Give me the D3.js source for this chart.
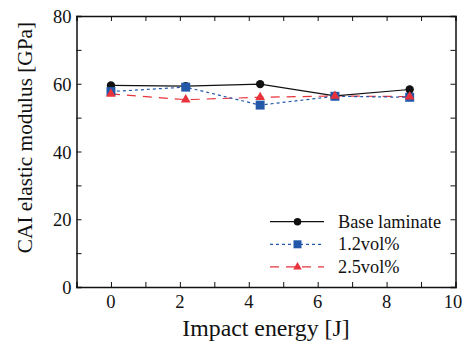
<!DOCTYPE html>
<html>
<head>
<meta charset="utf-8">
<script src="https://cdn.jsdelivr.net/npm/d3@7"></script>
<style>
  body { margin: 0; background: #fff; overflow: hidden; }
  svg { display: block; }
  text { font-family: "Liberation Serif", "Times New Roman", serif; fill: #111; }
</style>
</head>
<body>
<svg id="frame"></svg>
<script>
const width = 464;
const height = 345;

// data
const energies = [0, 2.17, 4.33, 6.5, 8.67];
const baseLaminate = [59.5, 59.3, 59.9, 56.4, 58.3];
const vol12 = [57.7, 59.0, 53.7, 56.3, 56.0];
const vol25 = [57.0, 55.3, 56.0, 56.4, 56.2];
const xTicks = [0, 2, 4, 6, 8, 10];
const yTicks = [0, 20, 40, 60, 80];

const series = [
  {name: 'Base laminate', values: baseLaminate, color: '#111', dash: null, symbol: d3.symbolCircle, size: 55},
  {name: '1.2vol%', values: vol12, color: '#2358a8', dash: '3,3', symbol: d3.symbolSquare, size: 80},
  {name: '2.5vol%', values: vol25, color: '#e8323c', dash: '9,7', symbol: d3.symbolTriangle, size: 40}
];

const margin = {left: 76.5, right: 8.5, top: 16, bottom: 58};
const innerWidth = width - margin.left - margin.right;
const innerHeight = height - margin.top - margin.bottom;

const svg = d3.select('#frame')
  .attr('width', width)
  .attr('height', height);

const xScale = d3.scaleLinear().domain([-1, 10]).range([0, innerWidth]);
const yScale = d3.scaleLinear().domain([0, 80]).range([innerHeight, 0]);

const g = svg.append('g').attr('transform', `translate(${margin.left},${margin.top})`);

// axes with inward ticks, labels drawn separately
const minorX = d3.range(0, 10, 1);
const minorY = d3.range(0, 81, 10);

const axBottom = g.append('g').attr('transform', `translate(0,${innerHeight})`)
  .call(d3.axisBottom(xScale).tickValues(minorX).tickSize(-5));
const axTop = g.append('g')
  .call(d3.axisTop(xScale).tickValues(minorX).tickSize(-5));
const axLeft = g.append('g')
  .call(d3.axisLeft(yScale).tickValues(minorY).tickSize(-5));
const axRight = g.append('g').attr('transform', `translate(${innerWidth},0)`)
  .call(d3.axisRight(yScale).tickValues(minorY).tickSize(-5));

[axBottom, axTop, axLeft, axRight].forEach(a => {
  a.selectAll('.tick text').remove();
  a.select('.domain').attr('stroke', '#111').attr('stroke-width', 1.5);
  a.selectAll('.tick line').attr('stroke', '#111').attr('stroke-width', 1);
});

// tick labels (svg level)
svg.selectAll('.xlab').data(xTicks).enter()
  .append('text')
  .attr('class', 'xlab')
  .attr('x', d => margin.left + Math.min(xScale(d), innerWidth - 2.5))
  .attr('y', margin.top + innerHeight + 21)
  .attr('text-anchor', 'middle')
  .style('font-size', '18.5px')
  .text(d => d);

svg.selectAll('.ylab').data(yTicks).enter()
  .append('text')
  .attr('class', 'ylab')
  .attr('x', margin.left - 5)
  .attr('y', d => margin.top + yScale(d) + 7)
  .attr('text-anchor', 'end')
  .style('font-size', '18.5px')
  .text(d => d);

// axis titles
svg.append('text')
  .attr('x', 266)
  .attr('y', 336)
  .attr('text-anchor', 'middle')
  .style('font-size', '23.8px')
  .text('Impact energy [J]');

svg.append('text')
  .attr('transform', 'translate(31.5,137.5) rotate(-90)')
  .attr('text-anchor', 'middle')
  .style('font-size', '21.3px')
  .text('CAI elastic modulus [GPa]');

// lines first, then markers
const line = d3.line().x((d, i) => xScale(energies[i])).y(d => yScale(d));

series.slice().reverse().forEach(s => {
  g.append('path')
    .datum(s.values)
    .attr('fill', 'none')
    .attr('stroke', s.color)
    .attr('stroke-width', 1.2)
    .attr('stroke-dasharray', s.dash)
    .attr('d', line);
});
series.forEach(s => {
  g.selectAll(null).data(s.values).enter()
    .append('path')
    .attr('transform', (d, i) => `translate(${xScale(energies[i])},${yScale(d)})`)
    .attr('fill', s.color)
    .attr('d', d3.symbol().type(s.symbol).size(s.size));
});

// legend
const legend = svg.append('g').attr('transform', 'translate(270,221.7)');
series.forEach((s, i) => {
  const row = legend.append('g').attr('transform', `translate(0,${i * 22.6})`);
  row.append('line')
    .attr('x1', 0).attr('x2', 54)
    .attr('stroke', s.color)
    .attr('stroke-width', 1.2)
    .attr('stroke-dasharray', s.dash);
  row.append('path')
    .attr('transform', 'translate(27.5,0)')
    .attr('fill', s.color)
    .attr('d', d3.symbol().type(s.symbol).size(s.size * 0.8));
  row.append('text')
    .attr('x', 68)
    .attr('y', 6)
    .style('font-size', '18.3px')
    .text(s.name);
});
</script>
</body>
</html>
